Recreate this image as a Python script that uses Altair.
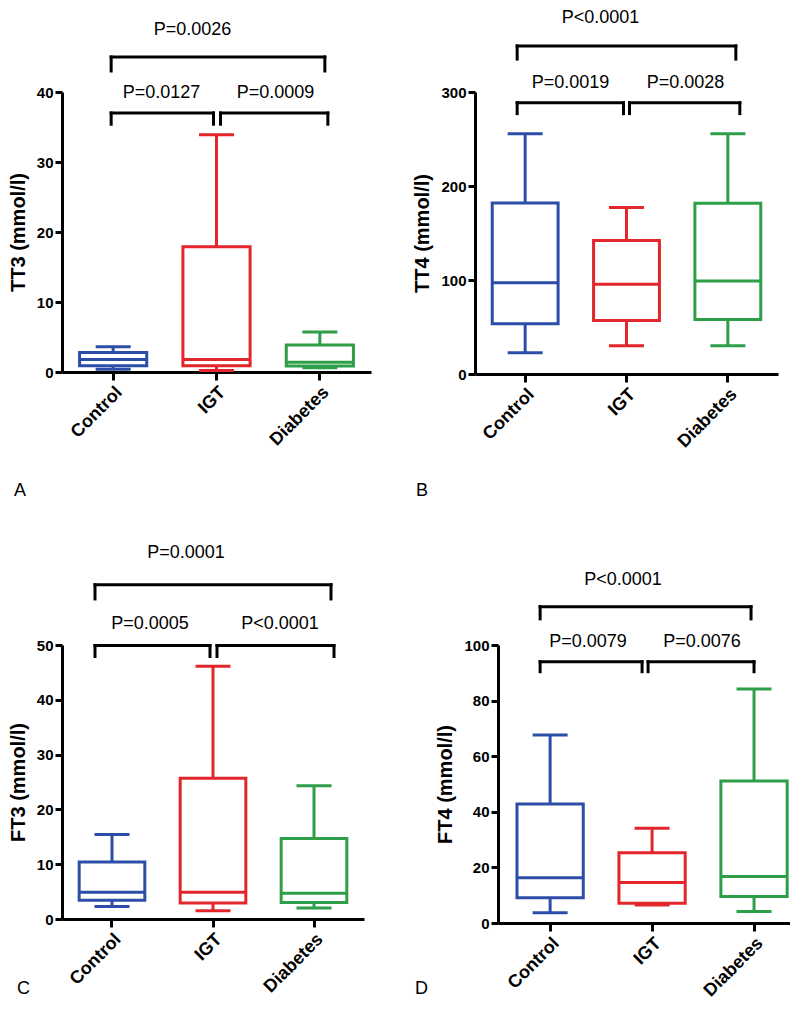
import altair as alt
import pandas as pd

groups = ["Control", "IGT", "Diabetes"]
colors = ["#2d4ea8", "#e3262b", "#2e9e48"]

# TT3
tt3_min = [0.4, 0.2, 0.6]
tt3_q1 = [0.9, 0.9, 0.85]
tt3_med = [1.8, 1.8, 1.4]
tt3_q3 = [2.8, 17.9, 3.85]
tt3_max = [3.6, 33.9, 5.7]
tt3_p = ["P=0.0127", "P=0.0009", "P=0.0026"]
tt3_levels = [37.0, 35.4, 45.0, 43.0, 39.9, 48.9]

# TT4
tt4_min = [22.7, 30, 30]
tt4_q1 = [53.5, 57, 58]
tt4_med = [97, 95.4, 99]
tt4_q3 = [182, 142, 181.6]
tt4_max = [255.6, 177, 255.6]
tt4_p = ["P=0.0019", "P=0.0028", "P<0.0001"]
tt4_levels = [288.6, 277, 349, 335, 310, 379]

# FT3
ft3_min = [2.3, 1.5, 2.0]
ft3_q1 = [3.4, 2.9, 3.0]
ft3_med = [4.9, 4.9, 4.7]
ft3_q3 = [10.4, 25.7, 14.7]
ft3_max = [15.4, 46.1, 24.3]
ft3_p = ["P=0.0005", "P<0.0001", "P=0.0001"]
ft3_levels = [49.9, 47.9, 61.0, 58.4, 53.8, 66.8]

# FT4
ft4_min = [3.7, 6.5, 4.1]
ft4_q1 = [9.1, 7.1, 9.5]
ft4_med = [16.3, 14.6, 16.7]
ft4_q3 = [42.8, 25.3, 51.1]
ft4_max = [67.6, 34.1, 84.2]
ft4_p = ["P=0.0079", "P=0.0076", "P<0.0001"]
ft4_levels = [94.0, 90.4, 113.8, 109.4, 101, 123.4]

FONT = "Liberation Sans"


def panel(ytitle, ymax, ystep, mins, q1s, meds, q3s, maxs, pvals, levels,
          width, height, offs, tdx, letter, letter_xy, pad_outer=0.17, band_align=0.5):
    df = pd.DataFrame({"group": groups, "lo": mins, "q1": q1s, "med": meds,
                       "q3": q3s, "hi": maxs})
    xs = alt.Scale(domain=groups, paddingInner=0.35, paddingOuter=pad_outer, align=band_align)
    xax = alt.Axis(title=None, labelAngle=-45)
    ys = alt.Scale(domain=[0, ymax], nice=False)
    yax = alt.Axis(values=list(range(0, ymax + 1, ystep)))

    def X(f="group"):
        return alt.X(f + ":N", scale=xs, axis=xax, sort=groups)

    def Y(f):
        return alt.Y(f + ":Q", scale=ys, axis=yax, title=ytitle)

    col = alt.Color("group:N", scale=alt.Scale(domain=groups, range=colors), legend=None)
    base = alt.Chart(df).encode(x=X(), color=col)
    upper = base.mark_rule(strokeWidth=3, opacity=1).encode(y=Y("q3"), y2="hi:Q")
    lower = base.mark_rule(strokeWidth=3, opacity=1).encode(y=Y("lo"), y2="q1:Q")
    box = base.mark_bar(filled=False, strokeWidth=3, opacity=1).encode(y=Y("q1"), y2="q3:Q")
    med = base.mark_tick(thickness=3, size=67, opacity=1).encode(y=Y("med"))
    capt = base.mark_tick(thickness=3, size=35, opacity=1).encode(y=Y("hi"))
    capb = base.mark_tick(thickness=3, size=35, opacity=1).encode(y=Y("lo"))
    layers = [upper, lower, box, med, capt, capb]

    pairs = [("Control", "IGT", levels[0], levels[1]),
             ("IGT", "Diabetes", levels[0], levels[1]),
             ("Control", "Diabetes", levels[2], levels[3])]
    for (a, b, ybar, yleg), (oa, ob) in zip(pairs, offs):
        bd = pd.DataFrame({"a": [a], "b": [b], "ybar": [ybar], "yleg": [yleg]})
        bb = alt.Chart(bd)
        layers.append(bb.mark_rule(strokeWidth=3, color="black", strokeCap="square",
                                   xOffset=oa, x2Offset=ob)
                      .encode(x=X("a"), x2="b:N", y=Y("ybar")))
        layers.append(bb.mark_rule(strokeWidth=3, color="black", strokeCap="square",
                                   xOffset=oa).encode(x=X("a"), y=Y("ybar"), y2="yleg:Q"))
        layers.append(bb.mark_rule(strokeWidth=3, color="black", strokeCap="square",
                                   xOffset=ob).encode(x=X("b"), y=Y("ybar"), y2="yleg:Q"))

    td_rows = [(pvals[0], levels[4]), (pvals[1], levels[4]), (pvals[2], levels[5])]
    for (txt, ty), dx in zip(td_rows, tdx):
        tdf = pd.DataFrame({"g": ["IGT"], "t": [txt], "y": [ty]})
        layers.append(alt.Chart(tdf).mark_text(fontSize=18, font=FONT, color="black", dx=dx,
                                               baseline="middle")
                      .encode(x=X("g"), y=Y("y"), text="t:N"))

    ldf = pd.DataFrame({"t": [letter]})
    layers.append(alt.Chart(ldf).mark_text(fontSize=18, font=FONT, color="black",
                                           align="left", baseline="middle")
                  .encode(text="t:N", x=alt.value(letter_xy[0]), y=alt.value(letter_xy[1])))

    return alt.layer(*layers).properties(width=width, height=height)


pA = panel("TT3 (mmol/l)", 40, 10, tt3_min, tt3_q1, tt3_med, tt3_q3, tt3_max, tt3_p,
           tt3_levels, 309, 280, [(-2, -3), (4, 8), (-2, 5)], [-55, 59, -24], "A", (-48, 399))
pB = panel("TT4 (mmol/l)", 300, 100, tt4_min, tt4_q1, tt4_med, tt4_q3, tt4_max, tt4_p,
           tt4_levels, 303, 282, [(-8, -3), (3, 12), (-8, 8)], [-56, 59, -26], "B", (-59, 399))
pC = panel("FT3 (mmol/l)", 50, 10, ft3_min, ft3_q1, ft3_med, ft3_q3, ft3_max, ft3_p,
           ft3_levels, 302, 274, [(-17, -3), (4, 20), (-17, 17)], [-63, 67, -27], "C", (-45, 344))
pD = panel("FT4 (mmol/l)", 100, 20, ft4_min, ft4_q1, ft4_med, ft4_q3, ft4_max, ft4_p,
           ft4_levels, 292, 278, [(-10, -10), (-4, 0), (-10, -3)], [-64, 50, -29], "D", (-83, 344),
           pad_outer=0.107, band_align=0.87)

row1 = alt.hconcat(pA, pB, spacing=41, bounds="full")
row2 = alt.hconcat(pC, pD, spacing=51, bounds="full")

chart = alt.vconcat(row1, row2, spacing=43, bounds="full").properties(
    padding=0
).configure(background="white").configure_view(stroke=None).configure_axis(
    grid=False, domainColor="black", domainWidth=3, tickColor="black", tickWidth=3,
    labelColor="black", labelFont=FONT, labelFontWeight="bold",
    titleColor="black", titleFont=FONT, titleFontWeight="bold", titleFontSize=20,
    titlePadding=8
).configure_axisX(
    labelFontSize=18, tickSize=8, labelPadding=3
).configure_axisY(
    labelFontSize=15, tickSize=7, labelPadding=2
)

chart.save("out.html", embed_options={"renderer": "svg", "actions": False})
